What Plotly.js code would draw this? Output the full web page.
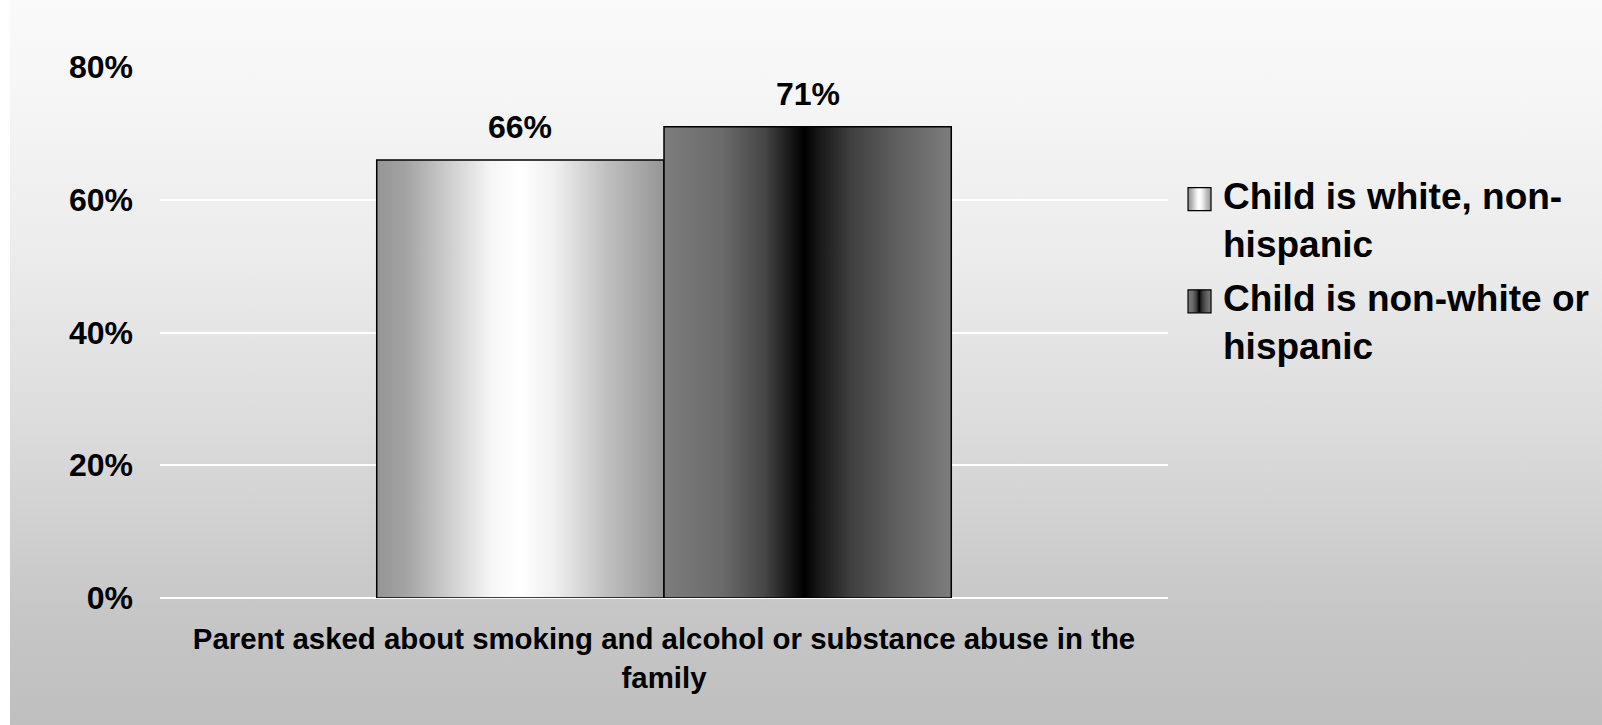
<!DOCTYPE html>
<html><head><meta charset="utf-8">
<script src="https://cdn.plot.ly/plotly-3.0.1.min.js"></script>
<style>
html,body{margin:0;padding:0;background:#ffffff;}
#chart{width:1602px;height:725px;background:
 linear-gradient(to right,#ffffff 0,#ffffff 10px,rgba(255,255,255,0) 10px),
 linear-gradient(to bottom,#fafafa 0%,#f6f6f6 12%,#ececec 35%,#dbdbdb 60%,#c6c6c6 85%,#bfbfbf 100%);}
</style></head><body><div id="chart"></div>
<script>
// ---- data ----
const categories = ["Parent asked about smoking and alcohol or substance abuse in the<br>family"];
const seriesNames = ["Child is white, non-hispanic", "Child is non-white or hispanic"];
const legendLabels = ["Child is white, non-<br>hispanic", "Child is non-white or<br>hispanic"];
const whiteNonHispanic = [0.66];
const nonWhiteOrHispanic = [0.71];
const yTickVals = [0, 0.2, 0.4, 0.6, 0.8];
const yTickText = ["0%", "20%", "40%", "60%", "80%"];
const dataLabelsWhite = ["66%"];
const dataLabelsNonWhite = ["71%"];

// ---- styles ----
const FONT = "'Liberation Sans', Arial, sans-serif";
const BARGAP = 0.43;
const gradients = {
  gradWhite: [[0,'#959595'],[0.1,'#a3a3a3'],[0.25,'#cdcdcd'],[0.4,'#f6f6f6'],[0.5,'#ffffff'],[0.62,'#efefef'],[0.8,'#c0c0c0'],[1,'#959595']],
  gradDark: [[0,'#7d7d7d'],[0.2,'#6b6b6b'],[0.35,'#464646'],[0.46,'#0e0e0e'],[0.49,'#000000'],[0.53,'#141414'],[0.65,'#3f3f3f'],[0.8,'#5d5d5d'],[1,'#7d7d7d']]
};
const gradIds = ['gradWhite', 'gradDark'];

const seriesValues = [whiteNonHispanic, nonWhiteOrHispanic];
const seriesLabels = [dataLabelsWhite, dataLabelsNonWhite];
const baseColors = ['#d9d9d9', '#404040'];

const traces = seriesValues.map((vals, i) => ({
  type: 'bar',
  x: categories,
  y: vals,
  name: legendLabels[i],
  legendgroup: 'g' + i,
  marker: {color: baseColors[i], line: {color: '#000000', width: 1.5}},
  hoverinfo: 'skip'
}));

const nS = seriesValues.length;
const bw = (1 - BARGAP) / nS;
const annotations = [];
seriesValues.forEach((vals, i) => {
  vals.forEach((v, j) => {
    annotations.push({
      xref: 'x', yref: 'y',
      x: j + (i - (nS - 1) / 2) * bw,
      y: v,
      text: seriesLabels[i][j],
      showarrow: false,
      xanchor: 'center', yanchor: 'bottom',
      yshift: 13,
      font: {family: FONT, size: 32, color: '#000000', weight: 'bold'}
    });
  });
});

const layout = {
  width: 1602, height: 725,
  paper_bgcolor: 'rgba(0,0,0,0)',
  plot_bgcolor: 'rgba(0,0,0,0)',
  margin: {l: 160, r: 434, t: 67, b: 127, pad: 0, autoexpand: false},
  barmode: 'group',
  bargap: BARGAP,
  bargroupgap: 0,
  font: {family: FONT, color: '#000000'},
  xaxis: {
    type: 'category', showgrid: false, zeroline: false, showline: false, ticks: '',
    tickfont: {family: FONT, size: 29.4, color: '#000000', weight: 'bold'},
    ticklabelstandoff: 21
  },
  yaxis: {
    range: [0, 0.8], tickvals: yTickVals, ticktext: yTickText,
    showgrid: true, gridcolor: '#ffffff', gridwidth: 2,
    zeroline: true, zerolinecolor: '#ffffff', zerolinewidth: 2,
    showline: false, ticks: '',
    tickfont: {family: FONT, size: 32, color: '#000000', weight: 'bold'},
    ticklabelstandoff: 26
  },
  showlegend: true,
  legend: {
    x: 1.0149, y: 0.817, xanchor: 'left', yanchor: 'top',
    bgcolor: 'rgba(0,0,0,0)', borderwidth: 0,
    traceorder: 'grouped', tracegroupgap: 3, valign: 'top',
    font: {family: FONT, size: 37, color: '#000000', weight: 'bold'}
  },
  annotations: annotations
};

function applyGradients(gd) {
  const svg = gd.querySelector('svg.main-svg');
  let defs = svg.querySelector('defs');
  const NS = 'http://www.w3.org/2000/svg';
  Object.keys(gradients).forEach(id => {
    const lg = document.createElementNS(NS, 'linearGradient');
    lg.setAttribute('id', id);
    lg.setAttribute('x1', '0'); lg.setAttribute('y1', '0');
    lg.setAttribute('x2', '1'); lg.setAttribute('y2', '0');
    gradients[id].forEach(([o, c]) => {
      const st = document.createElementNS(NS, 'stop');
      st.setAttribute('offset', o);
      st.setAttribute('stop-color', c);
      lg.appendChild(st);
    });
    defs.appendChild(lg);
  });
  gd.querySelectorAll('.barlayer .trace').forEach((tr, i) => {
    tr.querySelectorAll('path').forEach(p => { p.style.fill = 'url(#' + gradIds[i] + ')'; });
  });
  const fs = layout.legend.font.size;
  gd.querySelectorAll('.legend .traces').forEach((tr, i) => {
    const p = tr.querySelector('path.legendbar') || tr.querySelector('.legendpoints path');
    const t = tr.querySelector('text.legendtext');
    if (!p || !t) return;
    const pr = p.getBoundingClientRect();
    const trc = t.getBoundingClientRect();
    const cx = (pr.left + pr.right) / 2, cy = (pr.top + pr.bottom) / 2;
    const base = trc.top + 0.905 * fs;
    const L = trc.left - 35 - cx, R = trc.left - 12 - cx;
    const T = base - 22 - cy, B = base + 1 - cy;
    p.setAttribute('d', `M${R},${B}H${L}V${T}H${R}Z`);
    p.style.fill = 'url(#' + gradIds[i] + ')';
    p.style.stroke = '#000000';
    p.style.strokeWidth = '1.2px';
  });
}

Plotly.newPlot('chart', traces, layout, {staticPlot: true, displayModeBar: false})
  .then(gd => applyGradients(gd));
</script>
</body></html>
